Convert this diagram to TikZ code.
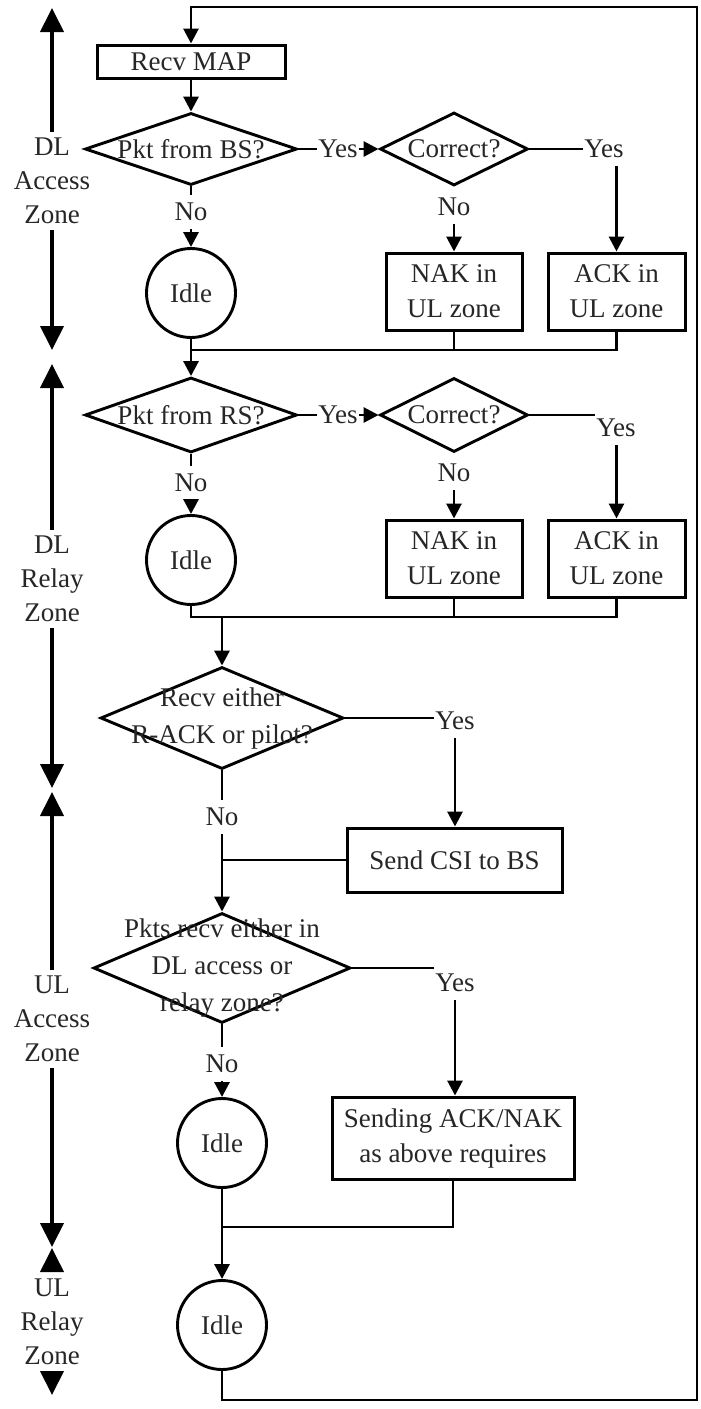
\documentclass[tikz,border=0pt]{standalone}
\usepackage{fontspec}
\setmainfont{Liberation Serif}
\usetikzlibrary{shapes.geometric,arrows.meta}
\begin{document}
\begin{tikzpicture}[x=1pt,y=-1pt,
  every node/.style={font=\fontsize{27}{35}\selectfont, text=black!85},
  flow/.style={line width=2.9pt, draw=black},
  arr/.style={flow, -{Triangle[width=15pt,length=15pt]}},
  zarr/.style={line width=4pt, draw=black, -{Triangle[width=23pt,length=24pt]}},
  proc/.style={draw=black, line width=3pt, inner sep=0pt, align=center},
  dec/.style={draw=black, diamond, line width=2.9pt, inner sep=0pt},
  idle/.style={draw=black, circle, line width=2.9pt, minimum size=89pt, inner sep=0pt},
  lbl/.style={inner xsep=1pt, inner ysep=8pt},
  zone/.style={align=center, inner sep=6pt}]
\useasboundingbox (0,0) rectangle (701,1409);

% ---- zone markers on the left
\node[zone, font=\fontsize{27}{34}\selectfont] (z1) at (52,181) {DL\\Access\\Zone};
\node[zone, font=\fontsize{27}{34}\selectfont] (z2) at (52,579) {DL\\Relay\\Zone};
\node[zone, font=\fontsize{27}{34}\selectfont] (z3) at (52,1019) {UL\\Access\\Zone};
\node[zone, font=\fontsize{27}{34}\selectfont] (z4) at (52,1322) {UL\\Relay\\Zone};
\coordinate (z1t) at (52,8);    \coordinate (z1b) at (52,350);
\coordinate (z2t) at (52,364);  \coordinate (z2b) at (52,788);
\coordinate (z3t) at (52,792);  \coordinate (z3b) at (52,1247);
\coordinate (z4t) at (52,1248); \coordinate (z4b) at (52,1395);
\draw[zarr] (z1.north) -- (z1t);
\draw[zarr] (z1.south) -- (z1b);
\draw[zarr] (z2.north) -- (z2t);
\draw[zarr] (z2.south) -- (z2b);
\draw[zarr] (z3.north) -- (z3t);
\draw[zarr] (z3.south) -- (z3b);
\draw[zarr] (z4t |- 0,1272) -- (z4t);
\draw[zarr] (z4b |- 0,1371) -- (z4b);

% ---- DL access zone
\node[proc, minimum width=188pt, minimum height=33pt] (recv) at (191,61.5) {Recv MAP};
\node[dec, minimum width=212pt, minimum height=72pt] (d1) at (191,149) {};
\node at (d1.center) {Pkt from BS?};
\node[dec, minimum width=148pt, minimum height=73pt] (c1) at (454,149) {};
\node at (c1.center) {Correct?};
\node[lbl] (y1) at (338,149) {Yes};
\node[lbl] (yc1) at (604,149) {Yes};
\node[lbl] (n1) at (191,212) {No};
\node[lbl] (nc1) at (454,207) {No};
\node[idle] (idle1) at (191,293) {Idle};
\node[proc, minimum width=136pt, minimum height=77pt] (nak1) at (454,291.5) {NAK in\\UL zone};
\node[proc, minimum width=137pt, minimum height=77pt] (ack1) at (616.5,291.5) {ACK in\\UL zone};

\draw[arr] (recv.south) -- (d1.north);
\draw[flow] (d1.east) -- (y1.west);
\draw[arr] (y1.east) -- (c1.west);
\draw[flow] (c1.east) -- (yc1.west);
\draw[arr] (ack1.north |- yc1.south) -- (ack1.north);
\draw[arr] (nc1.south) -- (nak1.north);
\draw[flow] (d1.south) -- (n1.north);
\draw[arr] (n1.south) -- (idle1.north);

\coordinate (m1) at (191,350);
\draw[flow] (idle1.south) -- (m1) -- (m1 -| ack1.south) -- (ack1.south);
\draw[flow] (nak1.south) -- (nak1.south |- m1);

% ---- DL relay zone
\node[dec, minimum width=212pt, minimum height=75pt] (d2) at (191,415) {};
\node at (d2.center) {Pkt from RS?};
\node[dec, minimum width=148pt, minimum height=74pt] (c2) at (454,415) {};
\node at (c2.center) {Correct?};
\node[lbl] (y2) at (338,415) {Yes};
\node[lbl] (yc2) at (616,428) {Yes};
\node[lbl] (n2) at (191,483) {No};
\node[lbl] (nc2) at (454,473) {No};
\node[idle] (idle2) at (191,560) {Idle};
\node[proc, minimum width=136pt, minimum height=77pt] (nak2) at (454,558.5) {NAK in\\UL zone};
\node[proc, minimum width=137pt, minimum height=77pt] (ack2) at (616.5,558.5) {ACK in\\UL zone};

\draw[arr] (m1) -- (d2.north);
\draw[flow] (d2.east) -- (y2.west);
\draw[arr] (y2.east) -- (c2.west);
\draw[flow] (c2.east) -- (c2.east -| yc2.west);
\draw[arr] (ack2.north |- yc2.south) -- (ack2.north);
\draw[arr] (nc2.south) -- (nak2.north);
\draw[flow] (d2.south) -- (n2.north);
\draw[arr] (n2.south) -- (idle2.north);

\coordinate (m2) at (191,617);
\draw[flow] (idle2.south) |- (m2 -| ack2.south) -- (ack2.south);
\draw[flow] (nak2.south) -- (nak2.south |- m2);

% ---- relay ACK / pilot check
\node[dec, minimum width=243pt, minimum height=102pt] (d3) at (222,718) {};
\node[align=center, font=\fontsize{27}{37}\selectfont] at (d3.center) {Recv either\\R-ACK or pilot?};
\node[lbl] (y3) at (455,721) {Yes};
\node[lbl] (n3) at (222,817) {No};
\node[proc, minimum width=215pt, minimum height=64pt] (csi) at (454.5,860) {Send CSI to BS};

\draw[arr] (d3.north |- m2) -- (d3.north);
\draw[flow] (d3.east) -- (d3.east -| y3.west);
\draw[arr] (y3.south) -- (y3.south |- csi.north);
\draw[flow] (d3.south) -- (n3.north);

% ---- UL access zone
\node[dec, minimum width=257pt, minimum height=110pt] (d4) at (222,968) {};
\node[align=center, font=\fontsize{27}{37}\selectfont] at (d4.center) {Pkts recv either in\\DL access or\\relay zone?};
\node[lbl] (y4) at (455,983) {Yes};
\node[lbl] (n4) at (222,1064) {No};
\node[idle] (idle3) at (222,1143) {Idle};
\node[proc, minimum width=242pt, minimum height=82pt] (send) at (453,1138) {Sending ACK/NAK\\as above requires};

\draw[arr] (n3.south) -- (d4.north);
\draw[flow] (csi.west) -- (csi.west -| d4.north);
\draw[flow] (d4.east) -- (d4.east -| y4.west);
\draw[arr] (y4.south) -- (y4.south |- send.north);
\draw[flow] (d4.south) -- (n4.north);
\draw[arr] (n4.south) -- (idle3.north);

% ---- UL relay zone and return loop
\node[idle] (idle4) at (222,1325) {Idle};
\coordinate (m4) at (222,1227);
\draw[arr] (idle3.south) -- (idle4.north);
\draw[flow] (send.south) |- (m4);

\coordinate (loopbr) at (697,1400);
\coordinate (looptr) at (697,7);
\draw[arr] (idle4.south) |- (loopbr) -- (looptr) -| (recv.north);
\end{tikzpicture}
\end{document}
